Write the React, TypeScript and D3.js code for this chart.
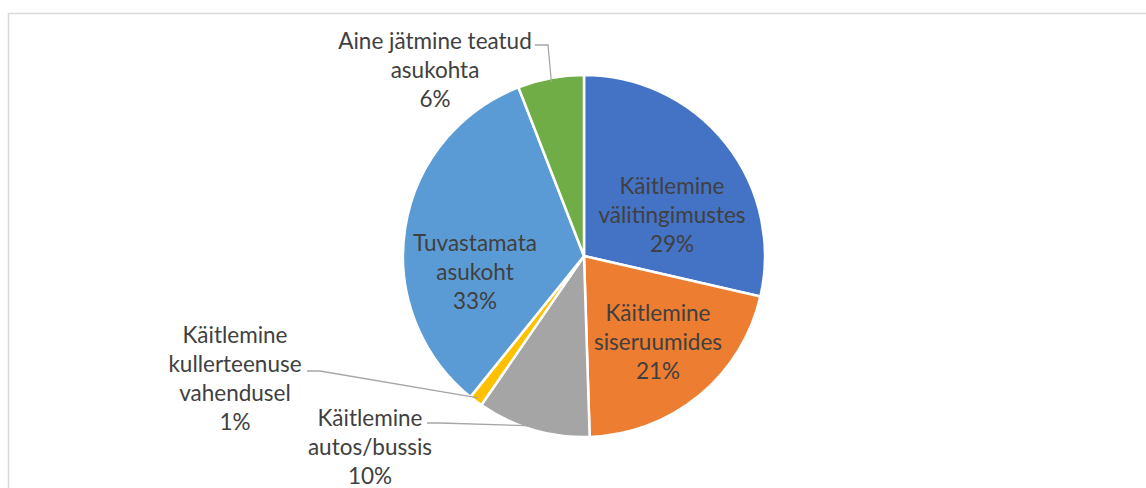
import React, { useRef, useEffect } from 'react';
import * as d3 from 'd3';

// slices, clockwise from 12 o'clock
const categories = [
  ['Käitlemine', 'välitingimustes'],
  ['Käitlemine', 'siseruumides'],
  ['Käitlemine', 'autos/bussis'],
  ['Käitlemine', 'kullerteenuse', 'vahendusel'],
  ['Tuvastamata', 'asukoht'],
  ['Aine jätmine teatud', 'asukohta'],
];
const shares = [28.6, 20.9, 10.1, 1.2, 33.3, 5.9];
const percentLabels = ['29%', '21%', '10%', '1%', '33%', '6%'];
const colors = ['#4472C4', '#ED7D31', '#A5A5A5', '#FFC000', '#5B9BD5', '#70AD47'];

// label placement relative to pie center (dx, dy = center of first line),
// outside labels get a leader line: [elbow x, elbow y] relative to center, side
const labelLayout = [
  { dx: 88, dy: -70, leader: null },
  { dx: 74, dy: 57, leader: null },
  { dx: -214, dy: 162, leader: { x: -144, y: 167, side: 'right' } },
  { dx: -349, dy: 79, leader: { x: -264, y: 115, side: 'right' } },
  { dx: -109, dy: -13, leader: null },
  { dx: -149, dy: -215, leader: { x: -36, y: -211, side: 'right' } },
];

const W = 1146;
const H = 488;
const cx = 584;
const cy = 256;
const R = 181;
const lineH = 29;

const App = () => {
  const ref = useRef<SVGSVGElement>(null);

  useEffect(() => {
    const svg = d3.select(ref.current);
    svg.selectAll('*').remove();

    // chart area border (only top and left visible in frame)
    svg.append('rect')
      .attr('x', 8.5).attr('y', 13.5)
      .attr('width', W + 20).attr('height', H + 20)
      .attr('fill', '#fff')
      .attr('stroke', '#d9d9d9')
      .attr('stroke-width', 1.5);

    const pie = d3.pie<number>().sort(null).value((d) => d);
    const arcs = pie(shares);
    const arc = d3.arc<d3.PieArcDatum<number>>().innerRadius(0).outerRadius(R);

    const g = svg.append('g').attr('transform', `translate(${cx},${cy})`);

    g.selectAll('path.slice')
      .data(arcs)
      .join('path')
      .attr('class', 'slice')
      .attr('d', arc)
      .attr('fill', (d, i) => colors[i])
      .attr('stroke', '#fff')
      .attr('stroke-width', 2.5)
      .attr('stroke-linejoin', 'round');

    // leader lines
    arcs.forEach((a, i) => {
      const lay = labelLayout[i];
      if (!lay.leader) return;
      const mid = (a.startAngle + a.endAngle) / 2;
      const px = Math.sin(mid) * (R - 4);
      const py = -Math.cos(mid) * (R - 4);
      const startX = lay.leader.x - 13;
      g.append('path')
        .attr('d', `M${startX},${lay.leader.y}L${lay.leader.x},${lay.leader.y}L${px},${py}`)
        .attr('fill', 'none')
        .attr('stroke', '#a6a6a6')
        .attr('stroke-width', 1.3);
    });

    // labels
    arcs.forEach((a, i) => {
      const lay = labelLayout[i];
      const lines = [...categories[i], percentLabels[i]];
      const t = g.append('text')
        .attr('text-anchor', 'middle')
        .attr('font-family', 'Lato, "Open Sans", sans-serif')
        .attr('font-size', 22.5)
        .attr('fill', '#404040');
      lines.forEach((ln, k) => {
        t.append('tspan')
          .attr('x', lay.dx)
          .attr('y', lay.dy + k * lineH)
          .attr('dy', '0.35em')
          .text(ln);
      });
    });
  }, []);

  return (
    <svg
      ref={ref}
      width={W}
      height={H}
      style={{ position: 'absolute', left: 0, top: 0, background: '#fff' }}
    />
  );
};

export default App;
